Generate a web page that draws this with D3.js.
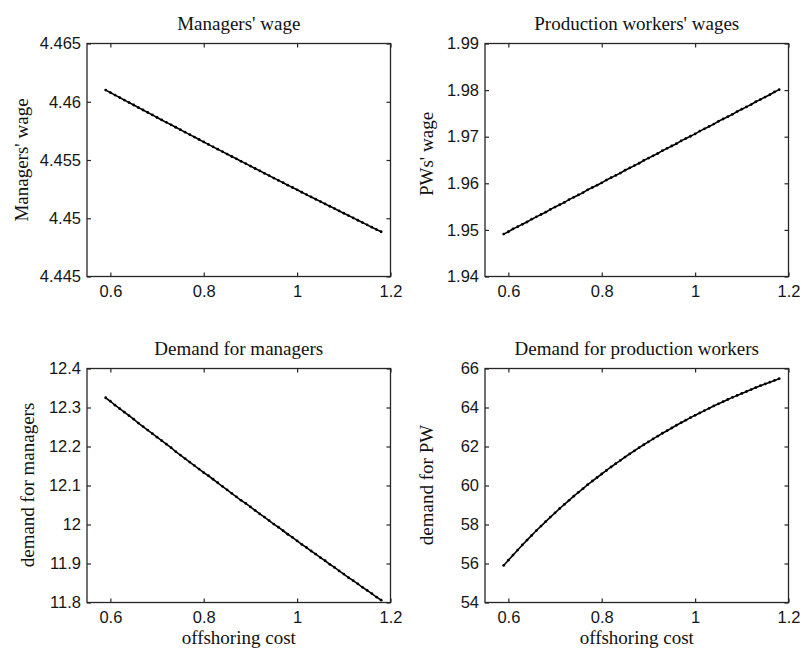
<!DOCTYPE html>
<html>
<head>
<meta charset="utf-8">
<script src="https://cdn.jsdelivr.net/npm/d3@7"></script>
<style>
  body { margin: 0; background: #fff; }
  .tick text { font-family: "Liberation Sans", Arial, sans-serif; font-size: 16.5px; fill: #151515; }
  .ttl { font-family: "Liberation Serif", "Times New Roman", serif; font-size: 19px; fill: #111; }
</style>
</head>
<body>
<svg id="fig" width="803" height="650"></svg>
<script>
// offshoring cost grid (x of every panel)
const offshoringCost = [0.59,0.60,0.61,0.62,0.63,0.64,0.65,0.66,0.67,0.68,0.69,0.70,0.71,0.72,0.73,0.74,0.75,0.76,0.77,0.78,
  0.79,0.80,0.81,0.82,0.83,0.84,0.85,0.86,0.87,0.88,0.89,0.90,0.91,0.92,0.93,0.94,0.95,0.96,0.97,0.98,
  0.99,1.00,1.01,1.02,1.03,1.04,1.05,1.06,1.07,1.08,1.09,1.10,1.11,1.12,1.13,1.14,1.15,1.16,1.17,1.18];

const managersWage = [4.46100,4.46079,4.46057,4.46036,4.46014,4.45993,4.45972,4.45950,4.45929,4.45908,
  4.45887,4.45865,4.45844,4.45823,4.45802,4.45781,4.45760,4.45739,4.45718,4.45697,
  4.45676,4.45655,4.45634,4.45613,4.45593,4.45572,4.45551,4.45530,4.45510,4.45489,
  4.45469,4.45448,4.45427,4.45407,4.45386,4.45366,4.45345,4.45325,4.45305,4.45284,
  4.45264,4.45244,4.45223,4.45203,4.45183,4.45163,4.45143,4.45123,4.45103,4.45083,
  4.45063,4.45043,4.45023,4.45003,4.44983,4.44963,4.44943,4.44923,4.44903,4.44884];

const pwWage = [1.9491,1.9496,1.9502,1.9507,1.9512,1.9517,1.9523,1.9528,1.9533,1.9538,
  1.9544,1.9549,1.9554,1.9559,1.9565,1.9570,1.9575,1.9580,1.9586,1.9591,
  1.9596,1.9601,1.9607,1.9612,1.9617,1.9622,1.9628,1.9633,1.9638,1.9643,
  1.9649,1.9654,1.9659,1.9664,1.9670,1.9675,1.9680,1.9685,1.9691,1.9696,
  1.9701,1.9706,1.9712,1.9717,1.9722,1.9727,1.9733,1.9738,1.9743,1.9748,
  1.9754,1.9759,1.9764,1.9769,1.9775,1.9780,1.9785,1.9790,1.9796,1.9801];

const managersDemand = [12.325,12.316,12.306,12.297,12.288,12.279,12.270,12.260,12.251,12.242,
  12.233,12.224,12.215,12.206,12.197,12.187,12.178,12.169,12.160,12.151,
  12.142,12.133,12.125,12.116,12.107,12.098,12.089,12.080,12.071,12.062,
  12.054,12.045,12.036,12.027,12.019,12.010,12.001,11.993,11.984,11.975,
  11.967,11.958,11.949,11.941,11.932,11.924,11.915,11.907,11.898,11.890,
  11.881,11.873,11.864,11.856,11.848,11.839,11.831,11.823,11.814,11.806];

const pwDemand = [55.90,56.17,56.43,56.69,56.95,57.20,57.44,57.69,57.92,58.15,
  58.38,58.60,58.82,59.03,59.24,59.45,59.65,59.84,60.04,60.23,
  60.41,60.59,60.77,60.95,61.12,61.29,61.46,61.62,61.78,61.94,
  62.09,62.24,62.39,62.53,62.68,62.81,62.95,63.09,63.22,63.35,
  63.48,63.60,63.72,63.84,63.96,64.08,64.19,64.30,64.41,64.52,
  64.62,64.72,64.82,64.92,65.02,65.12,65.21,65.30,65.39,65.48];

const xTicks = [0.6, 0.8, 1, 1.2];
const managersWageTicks = [4.445, 4.45, 4.455, 4.46, 4.465];
const pwWageTicks = [1.94, 1.95, 1.96, 1.97, 1.98, 1.99];
const managersDemandTicks = [11.8, 11.9, 12, 12.1, 12.2, 12.3, 12.4];
const pwDemandTicks = [54, 56, 58, 60, 62, 64, 66];

const titles = ["Managers' wage", "Production workers' wages", "Demand for managers", "Demand for production workers"];
const yLabels = ["Managers' wage", "PWs' wage", "demand for managers", "demand for PW"];
const xLabel = "offshoring cost";

const svg = d3.select('#fig');

const panels = [
  { y: managersWage, ticks: managersWageTicks, box: [87, 43.5, 390.5, 276.5], ylx: 28, yly: 160, xlab: false },
  { y: pwWage, ticks: pwWageTicks, box: [485, 43.5, 788.5, 276.5], ylx: 433, yly: 154, xlab: false },
  { y: managersDemand, ticks: managersDemandTicks, box: [87, 368.5, 390.5, 602.5], ylx: 34, yly: 485, xlab: true },
  { y: pwDemand, ticks: pwDemandTicks, box: [485, 368.5, 788.5, 602.5], ylx: 433, yly: 485, xlab: true }
];

panels.forEach((p, i) => {
  const [x0, y0, x1, y1] = p.box;
  const x = d3.scaleLinear().domain([0.55, 1.2]).range([x0, x1]);
  const y = d3.scaleLinear().domain(d3.extent(p.ticks)).range([y1, y0]);
  const g = svg.append('g');

  // box
  g.append('rect')
    .attr('x', x0).attr('y', y0)
    .attr('width', x1 - x0).attr('height', y1 - y0)
    .attr('fill', 'none').attr('stroke', '#262626').attr('stroke-width', 1.3);

  const styleAxis = sel => {
    sel.select('.domain').remove();
    sel.selectAll('.tick line').attr('stroke', '#262626').attr('stroke-width', 1.2);
  };

  g.append('g').attr('transform', `translate(0,${y1})`)
    .call(d3.axisBottom(x).tickValues(xTicks).tickSize(-4).tickPadding(9).tickFormat(d => String(d)))
    .call(styleAxis);
  g.append('g').attr('transform', `translate(0,${y0})`)
    .call(d3.axisTop(x).tickValues(xTicks).tickSize(-4).tickFormat(''))
    .call(styleAxis);
  g.append('g').attr('transform', `translate(${x0},0)`)
    .call(d3.axisLeft(y).tickValues(p.ticks).tickSize(-4).tickPadding(6).tickFormat(d => String(d)))
    .call(styleAxis);
  g.append('g').attr('transform', `translate(${x1},0)`)
    .call(d3.axisRight(y).tickValues(p.ticks).tickSize(-4).tickFormat(''))
    .call(styleAxis);

  const pts = offshoringCost.map((c, k) => [c, p.y[k]]);
  g.append('path')
    .datum(pts)
    .attr('fill', 'none').attr('stroke', '#000').attr('stroke-width', 1.6)
    .attr('d', d3.line().x(d => x(d[0])).y(d => y(d[1])));
  g.append('g').selectAll('circle')
    .data(pts).join('circle')
    .attr('cx', d => x(d[0])).attr('cy', d => y(d[1]))
    .attr('r', 1.4).attr('fill', '#000');

  g.append('text').attr('class', 'ttl')
    .attr('x', (x0 + x1) / 2).attr('y', y0 - 14)
    .attr('text-anchor', 'middle').text(titles[i]);

  g.append('text').attr('class', 'ttl')
    .attr('transform', `translate(${p.ylx},${p.yly}) rotate(-90)`)
    .attr('text-anchor', 'middle').text(yLabels[i]);

  if (p.xlab) {
    g.append('text').attr('class', 'ttl')
      .attr('x', (x0 + x1) / 2).attr('y', 644)
      .attr('text-anchor', 'middle').text(xLabel);
  }
});
</script>
</body>
</html>
